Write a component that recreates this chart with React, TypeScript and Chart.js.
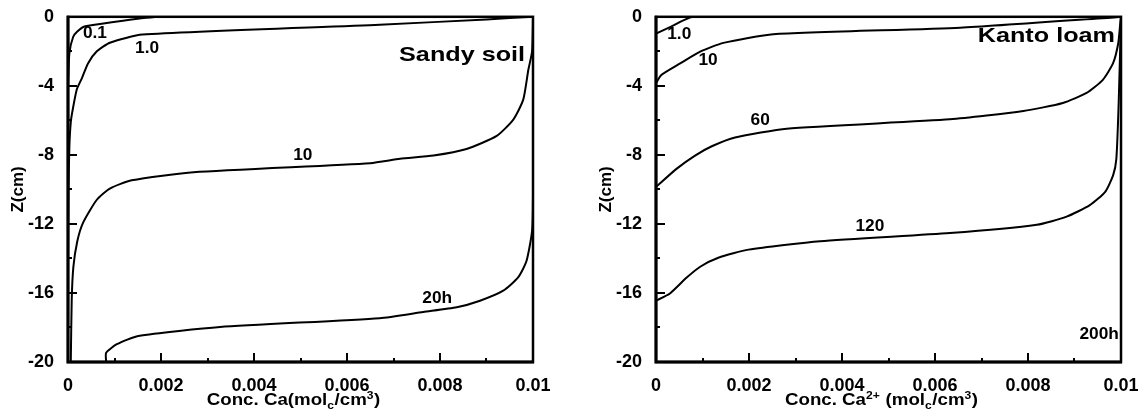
import React, { useEffect, useRef } from "react";
import { Chart, registerables } from "chart.js";

Chart.register(...registerables);

// ---------- axes ----------
const xTickValues = [0, 0.002, 0.004, 0.006, 0.008, 0.01];
const xTickLabels = ["0", "0.002", "0.004", "0.006", "0.008", "0.01"];
const xMinorTicks = [0.001, 0.003, 0.005, 0.007, 0.009];
const yTickValues = [-20, -16, -12, -8, -4, 0];
const yTickLabels = ["-20", "-16", "-12", "-8", "-4", "0"];
const yMinorTicks = [-18, -14, -10, -6, -2];

// ---------- Sandy soil (conc. in molc/cm3, depth Z in cm) ----------
const sandy01Conc = [0.01, 0.002, 0.00037, 0.0002, 0.00011, 0.00003, 0];
const sandy01Z = [0, 0, -0.55, -0.85, -1.17, -2.1, -4];

const sandy1Conc = [0.01, 0.009, 0.0067, 0.0016, 0.0009, 0.00062, 0.00043, 0.0003, 0.00019, 0.0001, 0.00006, 0.00003, 0.00001, 0];
const sandy1Z = [0, -0.15, -0.46, -1.03, -1.5, -2.0, -2.7, -3.55, -4.2, -5.4, -6.1, -7.5, -10, -14];

const sandy10Conc = [0.01, 0.00998, 0.0099, 0.00979, 0.00958, 0.00922, 0.00857, 0.00786, 0.00714, 0.0065, 0.0027, 0.00137, 0.0009, 0.00062, 0.00033, 0.0002, 0.000115, 0.00008, 0.00006];
const sandy10Z = [0, -2, -3.07, -4.8, -5.94, -6.9, -7.66, -8.04, -8.23, -8.48, -9.0, -9.47, -9.95, -10.6, -11.9, -13.0, -14.5, -16.4, -20];

const sandy20Conc = [0.01, 0.01, 0.00998, 0.00986, 0.00968, 0.00936, 0.00886, 0.00836, 0.00764, 0.0067, 0.00327, 0.00151, 0.00105, 0.00082, 0.00082];
const sandy20Z = [0, -10, -12.4, -14.15, -15.1, -15.87, -16.45, -16.83, -17.1, -17.46, -17.97, -18.49, -18.97, -19.47, -20];

// ---------- Kanto loam ----------
const kanto1Conc = [0.01, 0.0008, 0.0003, 0];
const kanto1Z = [0, 0, -0.6, -0.97];

const kanto10Conc = [0.01, 0.0099, 0.00654, 0.00252, 0.00145, 0.00095, 0.00052, 0.00012, 0];
const kanto10Z = [0, -0.02, -0.63, -1.01, -1.51, -2.02, -2.7, -3.36, -3.84];

const kanto60Conc = [0.01, 0.00998, 0.00994, 0.00983, 0.00961, 0.00926, 0.00875, 0.0079, 0.00632, 0.00281, 0.0017, 0.0012, 0.00084, 0.00044, 0];
const kanto60Z = [0, -0.5, -1.55, -2.69, -3.65, -4.41, -4.99, -5.46, -5.94, -6.48, -6.99, -7.5, -8.04, -8.81, -9.86];

const kanto120Conc = [0.01, 0.00995, 0.0099, 0.00983, 0.00966, 0.00933, 0.00883, 0.00819, 0.00632, 0.00353, 0.00199, 0.00134, 0.00095, 0.00066, 0.0003, 0];
const kanto120Z = [0, -5, -8.23, -9.19, -10.14, -10.91, -11.58, -12.05, -12.53, -13.0, -13.49, -13.96, -14.48, -15.11, -16.03, -16.45];

const kanto200Conc = [0.01, 0.01];
const kanto200Z = [0, -20];

// ---------- curve labels (text, conc, Z) ----------
const sandyLabelText = ["0.1", "1.0", "10", "20h"];
const sandyLabelConc = [0.00058, 0.0017, 0.00505, 0.00794];
const sandyLabelZ = [-0.97, -1.83, -8.02, -16.33];

const kantoLabelText = ["1.0", "10", "60", "120", "200h"];
const kantoLabelConc = [0.0005, 0.00112, 0.00224, 0.0046, 0.00953];
const kantoLabelZ = [-1.05, -2.52, -6.02, -12.15, -18.4];

const FONT = '"Liberation Sans", Arial, Helvetica, sans-serif';

type Seg = { t: string; k: "n" | "sub" | "sup" };

const sandyXTitle: Seg[] = [
  { t: "Conc. Ca(mol", k: "n" },
  { t: "c", k: "sub" },
  { t: "/cm", k: "n" },
  { t: "3", k: "sup" },
  { t: ")", k: "n" },
];
const kantoXTitle: Seg[] = [
  { t: "Conc. Ca", k: "n" },
  { t: "2+", k: "sup" },
  { t: " (mol", k: "n" },
  { t: "c", k: "sub" },
  { t: "/cm", k: "n" },
  { t: "3", k: "sup" },
  { t: ")", k: "n" },
];

function toPoints(conc: number[], z: number[]) {
  return conc.map((c, i) => ({ x: c, y: z[i] }));
}

function drawStretched(ctx: CanvasRenderingContext2D, text: string, px: number, py: number, size: number, sx: number, align: CanvasTextAlign) {
  ctx.save();
  ctx.translate(px, py);
  ctx.scale(sx, 1);
  ctx.font = `bold ${size}px ${FONT}`;
  ctx.textAlign = align;
  ctx.textBaseline = "middle";
  ctx.fillStyle = "#000";
  ctx.fillText(text, 0, 0);
  ctx.restore();
}

type PanelCfg = {
  series: { conc: number[]; z: number[] }[];
  labelText: string[];
  labelConc: number[];
  labelZ: number[];
  soil: string;
  soilConc: number;
  soilZ: number;
  xTitle: Seg[];
  yAxisWidth: number;
  padRight: number;
};

function makeDecor(cfg: PanelCfg) {
  return {
    id: "decor",
    afterDatasetsDraw(chart: any) {
      const { ctx, chartArea: a, scales } = chart;
      const x = scales.x;
      const y = scales.y;
      ctx.save();
      ctx.strokeStyle = "#000";
      ctx.lineCap = "butt";
      // inner tick marks
      ctx.lineWidth = 2;
      ctx.beginPath();
      xTickValues.forEach((v) => {
        if (v > 0 && v < 0.01) {
          const px = Math.round(x.getPixelForValue(v));
          ctx.moveTo(px, a.bottom);
          ctx.lineTo(px, a.bottom - 9);
        }
      });
      xMinorTicks.forEach((v) => {
        const px = Math.round(x.getPixelForValue(v));
        ctx.moveTo(px, a.bottom);
        ctx.lineTo(px, a.bottom - 4);
      });
      yTickValues.forEach((v) => {
        if (v > -20 && v < 0) {
          const py = Math.round(y.getPixelForValue(v));
          ctx.moveTo(a.left, py);
          ctx.lineTo(a.left + 9, py);
        }
      });
      yMinorTicks.forEach((v) => {
        const py = Math.round(y.getPixelForValue(v));
        ctx.moveTo(a.left, py);
        ctx.lineTo(a.left + 4, py);
      });
      ctx.stroke();
      // frame
      ctx.lineWidth = 2.5;
      ctx.strokeRect(a.left, a.top, a.right - a.left, a.bottom - a.top);
      ctx.lineWidth = 3;
      ctx.beginPath();
      ctx.moveTo(a.left, a.top - 1);
      ctx.lineTo(a.left, a.bottom);
      ctx.lineTo(a.right + 1, a.bottom);
      ctx.stroke();

      // curve labels
      cfg.labelText.forEach((t, i) => {
        drawStretched(ctx, t, x.getPixelForValue(cfg.labelConc[i]), y.getPixelForValue(cfg.labelZ[i]), 16, 1.08, "center");
      });
      // soil name
      drawStretched(ctx, cfg.soil, x.getPixelForValue(cfg.soilConc), y.getPixelForValue(cfg.soilZ), 21, 1.2, "right");

      // x title with sub/superscripts
      const sx = 1.1;
      const nFont = `bold 17px ${FONT}`;
      const sFont = `bold 11px ${FONT}`;
      let total = 0;
      cfg.xTitle.forEach((s) => {
        ctx.font = s.k === "n" ? nFont : sFont;
        total += ctx.measureText(s.t).width + (s.k === "n" ? 0 : 0.5);
      });
      const cx = (a.left + a.right) / 2 - 7;
      const baseY = 405;
      ctx.save();
      ctx.translate(cx - (total * sx) / 2, baseY);
      ctx.scale(sx, 1);
      ctx.fillStyle = "#000";
      ctx.textAlign = "left";
      ctx.textBaseline = "alphabetic";
      let pos = 0;
      cfg.xTitle.forEach((s) => {
        ctx.font = s.k === "n" ? nFont : sFont;
        const dy = s.k === "sub" ? 4 : s.k === "sup" ? -6 : 0;
        ctx.fillText(s.t, pos, dy);
        pos += ctx.measureText(s.t).width + (s.k === "n" ? 0 : 0.5);
      });
      ctx.restore();

      // y title
      ctx.save();
      ctx.translate(a.left - 50, (a.top + a.bottom) / 2);
      ctx.rotate(-Math.PI / 2);
      ctx.font = `bold 17px ${FONT}`;
      ctx.textAlign = "center";
      ctx.textBaseline = "middle";
      ctx.fillStyle = "#000";
      ctx.fillText("Z(cm)", 0, 0);
      ctx.restore();

      ctx.restore();
    },
  };
}

function Panel({ cfg, left }: { cfg: PanelCfg; left: number }) {
  const ref = useRef<HTMLCanvasElement | null>(null);
  useEffect(() => {
    if (!ref.current) return;
    const chart = new Chart(ref.current, {
      type: "line",
      data: {
        datasets: cfg.series.map((s) => ({
          data: toPoints(s.conc, s.z),
          borderColor: "#000",
          borderWidth: 2,
          pointRadius: 0,
          fill: false,
          tension: 0.2,
          showLine: true,
        })),
      },
      options: {
        responsive: false,
        animation: false,
        events: [],
        layout: { padding: { top: 13, right: cfg.padRight, left: 0, bottom: 0 } },
        plugins: { legend: { display: false }, tooltip: { enabled: false }, title: { display: false } },
        scales: {
          x: {
            type: "linear",
            min: 0,
            max: 0.01,
            grid: { display: false },
            border: { display: false },
            afterBuildTicks: (scale: any) => {
              scale.ticks = xTickValues.map((v) => ({ value: v }));
            },
            afterFit: (scale: any) => {
              scale.height = 50;
            },
            ticks: {
              color: "#000",
              padding: 5,
              maxRotation: 0,
              autoSkip: false,
              font: { family: FONT, size: 18, weight: "bold" },
              callback: (_v: any, i: number) => xTickLabels[i],
            },
          },
          y: {
            type: "linear",
            min: -20,
            max: 0,
            grid: { display: false },
            border: { display: false },
            afterBuildTicks: (scale: any) => {
              scale.ticks = yTickValues.map((v) => ({ value: v }));
            },
            afterFit: (scale: any) => {
              scale.width = cfg.yAxisWidth;
            },
            ticks: {
              color: "#000",
              padding: 6,
              autoSkip: false,
              font: { family: FONT, size: 18, weight: "bold" },
              callback: (_v: any, i: number) => yTickLabels[i],
            },
          },
        },
      } as any,
      plugins: [makeDecor(cfg)],
    });
    return () => chart.destroy();
  }, []);
  return (
    <div style={{ position: "absolute", left, top: 0, width: 572, height: 412 }}>
      <canvas ref={ref} width={572} height={412} style={{ display: "block", width: 572, height: 412 }} />
    </div>
  );
}

const sandyCfg: PanelCfg = {
  series: [
    { conc: sandy01Conc, z: sandy01Z },
    { conc: sandy1Conc, z: sandy1Z },
    { conc: sandy10Conc, z: sandy10Z },
    { conc: sandy20Conc, z: sandy20Z },
  ],
  labelText: sandyLabelText,
  labelConc: sandyLabelConc,
  labelZ: sandyLabelZ,
  soil: "Sandy soil",
  soilConc: 0.00983,
  soilZ: -2.2,
  xTitle: sandyXTitle,
  yAxisWidth: 68,
  padRight: 39,
};

const kantoCfg: PanelCfg = {
  series: [
    { conc: kanto1Conc, z: kanto1Z },
    { conc: kanto10Conc, z: kanto10Z },
    { conc: kanto60Conc, z: kanto60Z },
    { conc: kanto120Conc, z: kanto120Z },
    { conc: kanto200Conc, z: kanto200Z },
  ],
  labelText: kantoLabelText,
  labelConc: kantoLabelConc,
  labelZ: kantoLabelZ,
  soil: "Kanto loam",
  soilConc: 0.00987,
  soilZ: -1.15,
  xTitle: kantoXTitle,
  yAxisWidth: 84,
  padRight: 23,
};

export default function App() {
  return (
    <div style={{ position: "fixed", left: 0, top: 0, width: 1144, height: 412, background: "#fff", overflow: "hidden" }}>
      <Panel cfg={sandyCfg} left={0} />
      <Panel cfg={kantoCfg} left={572} />
    </div>
  );
}
